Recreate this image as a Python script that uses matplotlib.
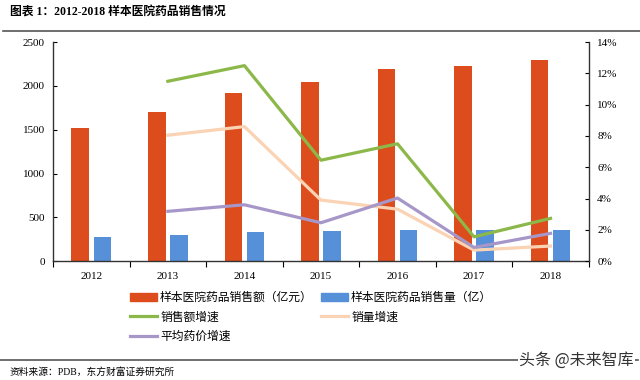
import numpy as np
import matplotlib.pyplot as plt
from matplotlib.lines import Line2D
from matplotlib.patches import Patch

plt.rcParams['font.family'] = ['Liberation Serif', 'Noto Sans CJK SC', 'DejaVu Sans']

###########################################################
# data
###########################################################
years = ['2012', '2013', '2014', '2015', '2016', '2017', '2018']
sales_amount = [1525, 1705, 1918, 2040, 2192, 2230, 2291]   # 亿元
sales_volume = [278, 300, 327, 339, 350, 350, 353]          # 亿
# growth rates (%) from 2013 on
growth_years = years[1:]
amount_growth = [11.5, 12.5, 6.45, 7.5, 1.55, 2.73]
volume_growth = [8.05, 8.6, 3.9, 3.32, 0.7, 0.96]
price_growth = [3.18, 3.6, 2.45, 4.03, 0.87, 1.77]

title = '图表 1：2012-2018 样本医院药品销售情况'
source = '资料来源：PDB，东方财富证券研究所'
labels = ['样本医院药品销售额（亿元）', '样本医院药品销售量（亿）',
          '销售额增速', '销量增速', '平均药价增速']

c_red = '#DD4C1C'
c_blue = '#5590D8'
c_green = '#8CB84A'
c_peach = '#FAD2B4'
c_purple = '#A797C8'

###########################################################
fig = plt.figure(figsize=(6.4, 3.8), dpi=100)
ax = fig.add_axes([0.083, 0.313, 0.837, 0.576])
ax2 = ax.twinx()

x = np.arange(len(years))
gx = x[1:]
w = 0.23
ax.bar(x - 0.145, sales_amount, w, color=c_red, zorder=2)
ax.bar(x + 0.145, sales_volume, w, color=c_blue, zorder=2)

ax2.plot(gx, amount_growth, color=c_green, lw=2.3)
ax2.plot(gx, volume_growth, color=c_peach, lw=2.3)
ax2.plot(gx, price_growth, color=c_purple, lw=2.3)

ax.set_xlim(-0.5, len(years) - 0.5)
ax.set_ylim(0, 2500)
ax.set_yticks(np.arange(0, 2501, 500))
ax2.set_ylim(0, 14)
ax2.set_yticks(np.arange(0, 15, 2))
ax2.set_yticklabels(['%d%%' % v for v in range(0, 15, 2)])

ax.set_xticks(x)
ax.set_xticklabels(years)
ax.set_xticks(np.arange(-0.5, len(years)), minor=True)
ax.tick_params(axis='x', which='major', length=0, pad=8, labelsize=8)
ax.tick_params(axis='x', which='minor', length=4, direction='out', width=0.8)
ax.tick_params(axis='y', direction='in', length=3, labelsize=8, pad=6)
ax2.tick_params(axis='y', direction='in', length=3, labelsize=8, pad=6)

for a in (ax, ax2):
    a.spines['top'].set_visible(False)
    for s in ('left', 'right', 'bottom'):
        a.spines[s].set_color('#333333')
        a.spines[s].set_linewidth(1.0)
ax.spines['right'].set_visible(False)
ax2.spines['left'].set_visible(False)
ax2.spines['bottom'].set_visible(False)

# legend, two columns placed separately
h_red = Patch(color=c_red)
h_blue = Patch(color=c_blue)
h_green = Line2D([], [], color=c_green, lw=2.3)
h_peach = Line2D([], [], color=c_peach, lw=2.3)
h_purple = Line2D([], [], color=c_purple, lw=2.3)
leg_kw = dict(frameon=False, fontsize=8.5, handlelength=2.3, handletextpad=0.25,
              labelspacing=0.62, borderpad=0, borderaxespad=0, loc='upper left')
fig.legend([h_red, h_green, h_purple], [labels[0], labels[2], labels[4]],
           bbox_to_anchor=(130 / 640, 1 - 292 / 380), **leg_kw)
fig.legend([h_blue, h_peach], [labels[1], labels[3]],
           bbox_to_anchor=(321 / 640, 1 - 292 / 380), **leg_kw)

# title, rules, source
fig.text(10 / 640, 1 - 13 / 380, title, fontsize=8.5, fontweight='bold',
         va='center', ha='left')
fig.add_artist(Line2D([3 / 640, 1], [1 - 31 / 380] * 2, color='#555555', lw=1.2))
fig.add_artist(Line2D([0, 638 / 640], [1 - 360 / 380] * 2, color='#555555', lw=1.2))
fig.text(10 / 640, 1 - 372 / 380, source, fontsize=7, va='center', ha='left')
fig.text(634 / 640, 1 - 360 / 380, '头条 @未来智库', fontsize=11.5, color='#333333',
         family=['Noto Sans CJK SC', 'DejaVu Sans'], va='center', ha='right',
         bbox=dict(facecolor='white', edgecolor='none', pad=1))

fig.savefig('out.png', dpi=100)
